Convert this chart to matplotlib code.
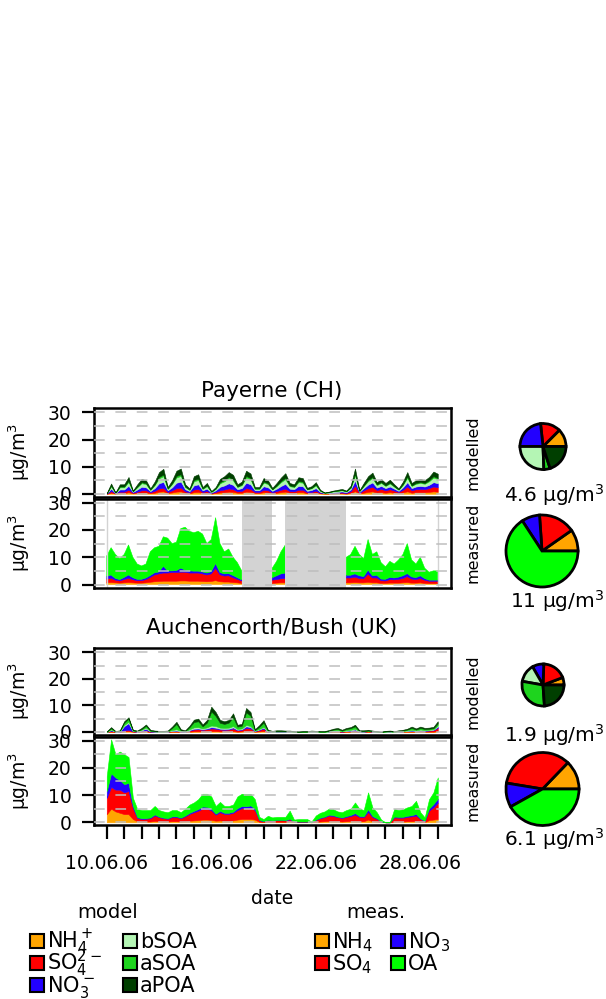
import numpy as np
import matplotlib

matplotlib.use("Agg")
import matplotlib.pyplot as plt
from matplotlib.patches import Rectangle

plt.rcParams["font.family"] = ["DejaVu Sans"]
nan = np.nan

# time axis: 6-hourly, 10.06.2006 00:00 .. 29.06.2006 00:00 (day of month)
TIME = np.arange(40, 117) / 4.0
TICK_DAYS = list(range(10, 30))
LABEL_DAYS = [10, 16, 22, 28]
DATE_LABELS = ["10.06.06", "16.06.06", "22.06.06", "28.06.06"]

MODEL_NAMES = [r"NH$_4^+$", r"SO$_4^{2-}$", r"NO$_3^-$", "bSOA", "aSOA", "aPOA"]
MEAS_NAMES = [r"NH$_4$", r"SO$_4$", r"NO$_3$", "OA"]
MODEL_COLORS = ["#FFA500", "#FF0000", "#2200FF", "#B4F5B4", "#1ED41E", "#003F00"]
MEAS_COLORS = ["#FFA500", "#FF0000", "#2200FF", "#00FF00"]

# ---- Payerne (CH), modelled, ug/m3
PAY_MOD_NH4 = [0.0, 0.4, 0.1, 0.3, 0.3, 0.6, 0.2, 0.3, 0.5, 0.5, 0.2, 0.4, 0.8, 0.9, 0.3, 0.5,
               0.8, 0.9, 0.4, 0.2, 0.6, 0.7, 0.3, 0.4, 0.1, 0.3, 0.5, 0.6, 0.8, 0.7, 0.4, 0.4,
               0.8, 0.7, 0.3, 0.3, 0.6, 0.5, 0.2, 0.4, 0.6, 0.8, 0.4, 0.4, 0.6, 0.6, 0.2, 0.3,
               0.4, 0.2, 0.1, 0.1, 0.1, 0.2, 0.2, 0.1, 0.3, 1.0, 0.1, 0.4, 0.7, 0.9, 0.5, 0.6,
               0.4, 0.6, 0.4, 0.2, 0.5, 0.9, 0.4, 0.6, 0.6, 0.6, 0.7, 0.9, 0.8]
PAY_MOD_SO4 = [0.1, 0.6, 0.1, 0.5, 0.5, 0.9, 0.2, 0.5, 0.8, 0.8, 0.4, 0.7, 1.2, 1.3, 0.4, 0.8,
               1.3, 1.4, 0.5, 0.4, 1.0, 1.1, 0.4, 0.6, 0.2, 0.4, 0.8, 1.0, 1.2, 1.0, 0.5, 0.7,
               1.3, 1.1, 0.4, 0.4, 0.9, 0.8, 0.4, 0.6, 0.9, 1.1, 0.6, 0.5, 0.9, 0.9, 0.4, 0.4,
               0.7, 0.2, 0.1, 0.1, 0.2, 0.2, 0.3, 0.2, 0.7, 2.0, 0.3, 0.9, 1.4, 1.7, 0.9, 1.2,
               0.9, 1.1, 0.8, 0.5, 1.0, 1.8, 0.9, 1.1, 1.2, 1.1, 1.4, 1.8, 1.6]
PAY_MOD_NO3 = [0.1, 0.9, 0.1, 0.8, 0.8, 1.5, 0.3, 0.8, 1.3, 1.1, 0.4, 1.0, 1.9, 2.2, 0.6, 1.1,
               2.0, 2.2, 0.8, 0.4, 1.5, 1.7, 0.6, 0.9, 0.2, 0.6, 1.3, 1.5, 1.9, 1.6, 0.8, 1.0,
               2.0, 1.7, 0.6, 0.6, 1.3, 1.1, 0.5, 0.9, 1.4, 1.8, 0.9, 0.8, 1.4, 1.3, 0.5, 0.7,
               1.0, 0.3, 0.1, 0.2, 0.3, 0.3, 0.4, 0.3, 0.6, 1.9, 0.3, 0.8, 1.3, 1.6, 0.9, 1.1,
               0.8, 1.0, 0.7, 0.4, 0.9, 1.6, 0.8, 1.0, 1.1, 1.0, 1.2, 1.6, 1.5]
PAY_MOD_BSOA = [0.0, 0.9, 0.1, 0.8, 0.8, 1.4, 0.2, 0.8, 1.3, 1.2, 0.4, 1.1, 1.8, 2.1, 0.5, 1.2,
                1.9, 2.1, 0.8, 0.4, 1.5, 1.6, 0.5, 0.9, 0.2, 0.5, 1.3, 1.5, 1.8, 1.6, 0.8, 1.1,
                1.9, 1.8, 0.5, 0.5, 1.3, 1.2, 0.5, 0.9, 1.4, 1.7, 0.9, 0.8, 1.4, 1.3, 0.5, 0.6,
                1.0, 0.4, 0.1, 0.2, 0.3, 0.4, 0.4, 0.3, 0.6, 1.9, 0.3, 0.8, 1.3, 1.6, 0.9, 1.1,
                0.8, 1.1, 0.7, 0.4, 0.9, 1.6, 0.8, 1.0, 1.1, 1.0, 1.3, 1.7, 1.5]
PAY_MOD_ASOA = [0.0, 0.2, 0.0, 0.3, 0.3, 0.4, 0.1, 0.3, 0.4, 0.3, 0.2, 0.3, 0.5, 0.6, 0.2, 0.3,
                0.6, 0.6, 0.2, 0.2, 0.5, 0.5, 0.2, 0.3, 0.1, 0.2, 0.4, 0.5, 0.5, 0.5, 0.2, 0.3,
                0.6, 0.5, 0.2, 0.2, 0.4, 0.3, 0.1, 0.3, 0.4, 0.5, 0.3, 0.2, 0.4, 0.4, 0.1, 0.2,
                0.3, 0.1, 0.0, 0.0, 0.1, 0.1, 0.1, 0.1, 0.2, 0.6, 0.1, 0.2, 0.4, 0.4, 0.3, 0.3,
                0.2, 0.3, 0.2, 0.1, 0.3, 0.5, 0.2, 0.3, 0.3, 0.3, 0.4, 0.5, 0.4]
PAY_MOD_APOA = [0.1, 0.8, 0.1, 0.8, 0.8, 1.4, 0.2, 0.8, 1.2, 1.1, 0.4, 1.0, 1.8, 2.1, 0.5, 1.1,
                1.9, 2.1, 0.8, 0.4, 1.4, 1.6, 0.5, 0.9, 0.2, 0.5, 1.2, 1.4, 1.8, 1.6, 0.8, 1.0,
                1.9, 1.7, 0.5, 0.5, 1.3, 1.1, 0.5, 0.9, 1.3, 1.7, 0.9, 0.8, 1.4, 1.3, 0.5, 0.6,
                0.9, 0.3, 0.1, 0.2, 0.2, 0.3, 0.4, 0.2, 0.6, 1.9, 0.2, 0.9, 1.4, 1.6, 0.8, 1.1,
                0.9, 1.1, 0.7, 0.4, 0.9, 1.6, 0.9, 1.0, 1.2, 1.0, 1.2, 1.7, 1.6]

# ---- Payerne (CH), measured (nan = no data)
PAY_MEAS_NH4 = [0.6, 0.7, 0.6, 0.5, 0.6, 0.7, 0.6, 0.5, 0.5, 0.6, 0.8, 1.0, 1.1, 1.2, 1.2, 1.2,
                1.2, 1.3, 1.3, 1.2, 1.2, 1.2, 1.1, 1.0, 1.1, 1.4, 1.0, 0.9, 0.9, 0.7, 0.6, 0.4,
                nan, nan, nan, nan, nan, nan, 0.4, 0.5, 0.6, 0.6, nan, nan, nan, nan, nan, nan,
                nan, nan, nan, nan, nan, nan, nan, 0.6, 0.6, 0.7, 0.6, 0.6, 0.8, 0.6, 0.6, 0.4,
                0.4, 0.5, 0.5, 0.5, 0.6, 0.7, 0.5, 0.5, 0.6, 0.4, 0.3, 0.3, 0.3]
PAY_MEAS_SO4 = [1.4, 1.6, 1.0, 0.8, 1.2, 1.6, 1.2, 0.9, 0.9, 1.2, 1.8, 2.5, 2.8, 3.0, 3.0, 3.2,
                3.2, 3.2, 3.2, 3.0, 3.0, 3.0, 2.8, 2.5, 2.8, 4.5, 2.6, 2.2, 2.3, 1.8, 1.3, 0.9,
                nan, nan, nan, nan, nan, nan, 1.2, 1.3, 1.5, 1.6, nan, nan, nan, nan, nan, nan,
                nan, nan, nan, nan, nan, nan, nan, 1.8, 1.8, 2.0, 1.6, 1.5, 3.0, 1.8, 1.8, 1.0,
                0.9, 1.3, 1.2, 1.4, 1.6, 2.2, 1.5, 1.3, 1.6, 1.2, 0.9, 0.9, 0.9]
PAY_MEAS_NO3 = [1.0, 1.2, 0.6, 0.5, 0.8, 1.2, 0.7, 0.5, 0.5, 0.6, 0.7, 0.8, 0.7, 2.5, 0.8, 0.6,
                0.7, 1.5, 0.8, 0.8, 0.7, 0.7, 0.7, 0.7, 0.8, 1.8, 0.8, 0.8, 0.8, 0.8, 0.6, 0.4,
                nan, nan, nan, nan, nan, nan, 0.9, 1.4, 1.8, 2.0, nan, nan, nan, nan, nan, nan,
                nan, nan, nan, nan, nan, nan, nan, 1.0, 1.0, 1.2, 1.0, 0.8, 1.5, 0.8, 1.0, 0.6,
                0.6, 0.8, 0.7, 0.8, 1.0, 1.1, 0.8, 0.7, 1.0, 0.6, 0.4, 0.4, 0.4]
PAY_MEAS_OA = [7.5, 10.0, 8.8, 7.7, 8.4, 11.0, 7.5, 5.6, 4.9, 5.1, 8.7, 9.2, 9.4, 10.8, 12.0, 10.0,
               10.4, 14.5, 15.7, 14.5, 14.1, 14.6, 13.9, 10.8, 11.8, 16.8, 10.6, 8.1, 9.0, 6.7, 5.5, 3.3,
               nan, nan, nan, nan, nan, nan, 3.5, 5.3, 8.1, 10.3, nan, nan, nan, nan, nan, nan,
               nan, nan, nan, nan, nan, nan, nan, 6.6, 7.6, 10.1, 7.8, 6.6, 11.2, 7.8, 8.6, 6.0,
               4.6, 5.9, 5.1, 6.3, 7.8, 11.0, 6.2, 5.0, 6.8, 3.8, 2.9, 3.4, 3.4]

# ---- Auchencorth/Bush (UK), modelled
UK_MOD_NH4 = [0.0, 0.1, 0.0, 0.0, 0.2, 0.3, 0.1, 0.0, 0.1, 0.2, 0.0, 0.0, 0.0, 0.0, 0.0, 0.1,
              0.1, 0.0, 0.0, 0.1, 0.2, 0.2, 0.2, 0.2, 0.3, 0.3, 0.2, 0.2, 0.2, 0.3, 0.1, 0.2,
              0.3, 0.3, 0.1, 0.2, 0.3, 0.0, 0.0, 0.0, 0.0, 0.0, 0.0, 0.0, 0.0, 0.0, 0.0, 0.0,
              0.0, 0.0, 0.0, 0.0, 0.1, 0.1, 0.0, 0.1, 0.1, 0.1, 0.0, 0.0, 0.1, 0.0, 0.0, 0.0,
              0.0, 0.0, 0.0, 0.0, 0.1, 0.1, 0.1, 0.1, 0.1, 0.1, 0.1, 0.1, 0.3]
UK_MOD_SO4 = [0.0, 0.3, 0.1, 0.1, 0.4, 0.5, 0.1, 0.1, 0.2, 0.4, 0.1, 0.1, 0.1, 0.1, 0.1, 0.2,
              0.3, 0.1, 0.1, 0.4, 0.7, 0.8, 0.6, 0.8, 1.0, 0.9, 0.7, 0.6, 0.7, 1.0, 0.5, 0.6,
              1.2, 1.0, 0.2, 0.5, 0.9, 0.1, 0.1, 0.1, 0.1, 0.1, 0.1, 0.0, 0.0, 0.0, 0.0, 0.1,
              0.1, 0.0, 0.0, 0.1, 0.2, 0.2, 0.1, 0.2, 0.3, 0.4, 0.1, 0.1, 0.2, 0.1, 0.1, 0.0,
              0.1, 0.1, 0.0, 0.1, 0.1, 0.2, 0.3, 0.2, 0.4, 0.3, 0.4, 0.5, 1.2]
UK_MOD_NO3 = [0.0, 0.3, 0.0, 0.1, 1.6, 2.5, 0.1, 0.0, 0.3, 0.6, 0.1, 0.0, 0.0, 0.0, 0.0, 0.1,
              0.1, 0.1, 0.0, 0.2, 0.3, 0.3, 0.2, 0.3, 0.5, 0.4, 0.3, 0.3, 0.3, 0.4, 0.2, 0.2,
              0.6, 0.5, 0.1, 0.2, 0.4, 0.1, 0.0, 0.0, 0.0, 0.0, 0.0, 0.0, 0.0, 0.0, 0.0, 0.0,
              0.0, 0.0, 0.0, 0.0, 0.1, 0.1, 0.1, 0.1, 0.1, 0.4, 0.0, 0.0, 0.0, 0.0, 0.0, 0.0,
              0.0, 0.0, 0.0, 0.0, 0.0, 0.1, 0.1, 0.1, 0.1, 0.1, 0.1, 0.2, 0.5]
UK_MOD_BSOA = [0.0, 0.2, 0.0, 0.1, 0.4, 0.5, 0.1, 0.1, 0.2, 0.4, 0.1, 0.1, 0.0, 0.0, 0.1, 0.3,
               0.5, 0.1, 0.1, 0.3, 0.5, 0.5, 0.3, 0.4, 0.6, 0.6, 0.4, 0.4, 0.4, 0.5, 0.3, 0.3,
               0.5, 0.4, 0.1, 0.2, 0.3, 0.1, 0.0, 0.1, 0.1, 0.1, 0.1, 0.0, 0.0, 0.0, 0.0, 0.1,
               0.0, 0.0, 0.0, 0.1, 0.2, 0.2, 0.1, 0.2, 0.3, 0.3, 0.1, 0.1, 0.1, 0.1, 0.0, 0.0,
               0.0, 0.1, 0.0, 0.1, 0.1, 0.2, 0.3, 0.2, 0.3, 0.2, 0.2, 0.2, 0.4]
UK_MOD_ASOA = [0.1, 0.5, 0.1, 0.1, 0.9, 1.2, 0.2, 0.1, 0.3, 0.7, 0.2, 0.1, 0.1, 0.1, 0.1, 0.8,
               2.0, 0.3, 0.1, 0.8, 2.0, 2.2, 0.8, 1.8, 5.3, 3.8, 1.8, 1.5, 1.9, 3.4, 0.9, 1.0,
               4.8, 3.9, 0.2, 0.8, 1.6, 0.2, 0.1, 0.1, 0.1, 0.1, 0.1, 0.1, 0.0, 0.1, 0.1, 0.1,
               0.1, 0.1, 0.1, 0.2, 0.3, 0.5, 0.2, 0.5, 0.6, 0.9, 0.1, 0.1, 0.1, 0.1, 0.0, 0.0,
               0.1, 0.1, 0.1, 0.1, 0.2, 0.3, 0.7, 0.3, 0.6, 0.4, 0.4, 0.4, 0.8]
UK_MOD_APOA = [0.1, 0.4, 0.1, 0.2, 0.5, 0.5, 0.2, 0.2, 0.4, 0.5, 0.3, 0.2, 0.2, 0.2, 0.2, 0.5,
               0.8, 0.4, 0.3, 0.5, 0.9, 1.0, 0.7, 1.0, 1.8, 1.5, 1.1, 1.0, 1.0, 1.4, 0.7, 0.7,
               1.6, 1.4, 0.3, 0.6, 0.9, 0.3, 0.2, 0.3, 0.3, 0.2, 0.2, 0.2, 0.2, 0.2, 0.2, 0.2,
               0.2, 0.2, 0.2, 0.3, 0.3, 0.4, 0.3, 0.4, 0.4, 0.6, 0.3, 0.3, 0.3, 0.2, 0.2, 0.1,
               0.2, 0.2, 0.2, 0.3, 0.3, 0.3, 0.5, 0.4, 0.5, 0.4, 0.4, 0.5, 0.8]

# ---- Auchencorth/Bush (UK), measured
UK_MEAS_NH4 = [3.0, 5.0, 4.0, 3.5, 3.0, 3.0, 1.2, 0.4, 0.3, 0.3, 0.3, 0.5, 0.4, 0.3, 0.3, 0.4,
               0.4, 0.3, 0.4, 0.6, 0.7, 0.8, 1.0, 1.0, 0.9, 0.6, 0.7, 0.6, 0.6, 0.7, 1.0, 1.2,
               1.2, 1.2, 1.0, 0.2, 0.1, 0.2, 0.1, 0.2, 0.2, 0.2, 0.3, 0.1, 0.1, 0.1, 0.1, 0.0,
               0.2, 0.3, 0.4, 0.5, 0.5, 0.4, 0.3, 0.4, 0.5, 0.6, 0.4, 0.4, 1.0, 0.4, 0.3, 0.1,
               0.0, 0.0, 0.3, 0.3, 0.3, 0.4, 0.4, 0.5, 0.2, 0.1, 0.8, 1.0, 1.2]
UK_MEAS_SO4 = [6.0, 8.0, 8.0, 8.5, 8.0, 8.5, 4.0, 1.2, 0.9, 1.0, 1.2, 2.0, 1.5, 1.2, 1.0, 1.5,
               1.5, 1.2, 1.8, 2.5, 3.0, 3.5, 4.0, 4.0, 3.5, 2.2, 3.0, 2.5, 2.5, 2.8, 3.5, 4.0,
               4.0, 4.2, 3.5, 0.6, 0.3, 0.6, 0.5, 0.6, 0.6, 0.5, 0.8, 0.2, 0.2, 0.2, 0.2, 0.1,
               0.7, 1.2, 1.5, 2.0, 1.8, 1.5, 1.3, 1.6, 1.8, 2.2, 1.6, 1.5, 2.8, 1.5, 1.0, 0.2,
               0.0, 0.0, 1.5, 1.4, 1.4, 1.6, 1.8, 2.0, 1.0, 0.4, 3.5, 4.5, 6.0]
UK_MEAS_NO3 = [2.5, 5.0, 4.5, 3.5, 3.0, 3.0, 0.8, 0.3, 0.3, 0.2, 0.3, 0.4, 0.2, 0.2, 0.2, 0.3,
               0.3, 0.2, 0.3, 0.4, 0.5, 0.6, 0.8, 0.7, 0.6, 0.4, 0.5, 0.4, 0.4, 0.4, 0.7, 0.8,
               0.7, 0.8, 0.6, 0.1, 0.1, 0.1, 0.1, 0.1, 0.1, 0.1, 0.2, 0.0, 0.0, 0.0, 0.0, 0.0,
               0.1, 0.2, 0.2, 0.3, 0.3, 0.2, 0.2, 0.3, 0.4, 0.6, 0.3, 0.3, 1.0, 0.4, 0.2, 0.0,
               0.0, 0.0, 0.3, 0.3, 0.3, 0.4, 0.4, 0.6, 0.2, 0.1, 0.8, 1.2, 1.5]
UK_MEAS_OA = [5.5, 12.5, 8.5, 10.5, 11.0, 9.5, 3.0, 3.0, 3.0, 3.0, 2.7, 3.1, 2.4, 2.3, 2.2, 2.3,
              2.3, 2.0, 2.5, 3.0, 3.1, 3.6, 4.7, 4.8, 4.5, 2.8, 3.3, 2.5, 2.5, 2.6, 4.3, 4.5,
              4.5, 4.3, 3.4, 1.1, 0.7, 1.5, 1.1, 1.1, 1.1, 1.2, 3.0, 0.7, 0.9, 0.9, 0.9, 0.2,
              1.5, 1.8, 1.9, 2.2, 2.2, 1.9, 1.9, 2.2, 2.3, 3.9, 2.7, 2.3, 6.2, 3.2, 2.2, 0.7,
              0.0, 0.0, 2.8, 2.5, 2.8, 3.1, 3.4, 4.8, 2.3, 1.2, 3.4, 4.3, 7.8]

# ---- period-mean composition (pie shares) and mean total labels
PAY_MOD_PIE = [0.125, 0.142, 0.233, 0.256, 0.044, 0.200]
PAY_MEAS_PIE = [0.097, 0.164, 0.081, 0.658]
UK_MOD_PIE = [0.058, 0.186, 0.089, 0.139, 0.289, 0.239]
UK_MEAS_PIE = [0.128, 0.346, 0.107, 0.419]
PIE_TOTALS = ["4.6", "11", "1.9", "6.1"]

W, H = 606, 999
fig = plt.figure(figsize=(W / 100, H / 100), dpi=100)


def fx(px):
    return px / W


def fy(py):
    return 1 - py / H


def add_panel(left, top, right, bottom):
    return fig.add_axes([fx(left), fy(bottom), (right - left) / W, (bottom - top) / H])


def style_panel(ax, xlabels=False):
    ax.set_xlim(9.24, 29.76)
    ax.set_ylim(-1.1, 31.5)
    ax.set_yticks([0, 10, 20, 30])
    ax.set_yticks(np.arange(0, 31, 5), minor=True)
    ax.grid(axis="y", which="both", color="#BEBEBE", linestyle=(0, (7, 7)), linewidth=1.1)
    ax.set_axisbelow(False)
    ax.tick_params(axis="y", which="major", length=9, width=1.6, pad=7, labelsize=13.5)
    ax.tick_params(axis="y", which="minor", length=0)
    for s in ax.spines.values():
        s.set_linewidth(1.8)
    if xlabels:
        ax.set_xticks(TICK_DAYS)
        lab = dict(zip(LABEL_DAYS, DATE_LABELS))
        ax.set_xticklabels([lab.get(d, "") for d in TICK_DAYS])
        ax.tick_params(axis="x", length=10, width=1.6, pad=11, labelsize=13.5)
    else:
        ax.tick_params(axis="x", bottom=False, labelbottom=False)


def gap_spans(t, y):
    bad = np.isnan(np.asarray(y, dtype=float))
    spans, i = [], 0
    while i < len(bad):
        if bad[i]:
            j = i
            while j < len(bad) and bad[j]:
                j += 1
            spans.append((t[i - 1], t[j]))
            i = j
        else:
            i += 1
    return spans


def draw_stack(ax, layers, colors):
    ax.stackplot(TIME, *[np.asarray(v, dtype=float) for v in layers], colors=colors,
                 linewidth=0.4, edgecolor="face", zorder=1)


def add_pie(cx, cy, r, shares, colors):
    ax = fig.add_axes([fx(cx - r - 3), fy(cy + r + 3), (2 * r + 6) / W, (2 * r + 6) / H])
    ax.pie(shares, colors=colors, startangle=0, counterclock=True, radius=r / (r + 3),
           wedgeprops=dict(edgecolor="black", linewidth=2.0))
    ax.set_xlim(-1, 1)
    ax.set_ylim(-1, 1)
    ax.set_aspect("equal")
    ax.axis("off")


panels = [
    (93.5, 408.3, 451, 496.8, "modelled"),
    (93.5, 498.6, 451, 587.5, "measured"),
    (93.5, 648.3, 451, 734.8, "modelled"),
    (93.5, 736.6, 451, 825.3, "measured"),
]
axes = []
for k, (l, t, r, b, side) in enumerate(panels):
    ax = add_panel(l, t, r, b)
    style_panel(ax, xlabels=(k == 3))
    axes.append(ax)
    fig.text(fx(19.5), fy((t + b) / 2), "µg/m$^3$", rotation=90, ha="center", va="center",
             fontsize=13.5)
    fig.text(fx(473), fy((t + b) / 2), side, rotation=90, ha="center", va="center",
             fontsize=11.5)

draw_stack(axes[0], [PAY_MOD_NH4, PAY_MOD_SO4, PAY_MOD_NO3, PAY_MOD_BSOA, PAY_MOD_ASOA,
                     PAY_MOD_APOA], MODEL_COLORS)
draw_stack(axes[1], [PAY_MEAS_NH4, PAY_MEAS_SO4, PAY_MEAS_NO3, PAY_MEAS_OA], MEAS_COLORS)
for a, b in gap_spans(TIME, PAY_MEAS_OA):
    axes[1].axvspan(a, b, color="#D3D3D3", lw=0, zorder=1.5)
for d in (TIME[0], TIME[-1]):
    axes[1].axvline(d, color="#D3D3D3", lw=1.0, zorder=1.5)
draw_stack(axes[2], [UK_MOD_NH4, UK_MOD_SO4, UK_MOD_NO3, UK_MOD_BSOA, UK_MOD_ASOA,
                     UK_MOD_APOA], MODEL_COLORS)
draw_stack(axes[3], [UK_MEAS_NH4, UK_MEAS_SO4, UK_MEAS_NO3, UK_MEAS_OA], MEAS_COLORS)

fig.text(fx(272), fy(391), "Payerne (CH)", ha="center", va="center", fontsize=15.5)
fig.text(fx(272), fy(628), "Auchencorth/Bush (UK)", ha="center", va="center", fontsize=15.5)
fig.text(fx(272.5), fy(898), "date", ha="center", va="center", fontsize=13.5)

# pies
add_pie(543, 446.5, 23, PAY_MOD_PIE, MODEL_COLORS)
add_pie(542, 551, 36, PAY_MEAS_PIE, MEAS_COLORS)
add_pie(543, 685, 21, UK_MOD_PIE, MODEL_COLORS)
add_pie(542.5, 789, 36.5, UK_MEAS_PIE, MEAS_COLORS)
for lab, y in zip(PIE_TOTALS, [495, 601, 735, 839]):
    fig.text(fx(604), fy(y), lab + " µg/m$^3$", ha="right", va="center", fontsize=14.5)

# legends
fig.text(fx(108), fy(913), "model", ha="center", va="center", fontsize=14)
fig.text(fx(375.6), fy(913), "meas.", ha="center", va="center", fontsize=14)


def legend_item(x, y, color, label):
    fig.add_artist(Rectangle((fx(x - 7), fy(y + 7)), 14 / W, 14 / H, facecolor=color,
                             edgecolor="black", lw=1.5, transform=fig.transFigure))
    fig.text(fx(x + 10), fy(y + 7), label, ha="left", va="baseline", fontsize=15)


rows = [941, 963, 985]
for i in range(3):
    legend_item(37, rows[i], MODEL_COLORS[i], MODEL_NAMES[i])
    legend_item(130, rows[i], MODEL_COLORS[i + 3], MODEL_NAMES[i + 3])
for i in range(2):
    legend_item(322, rows[i], MEAS_COLORS[i], MEAS_NAMES[i])
    legend_item(398, rows[i], MEAS_COLORS[i + 2], MEAS_NAMES[i + 2])

fig.savefig("out.png", dpi=100)
